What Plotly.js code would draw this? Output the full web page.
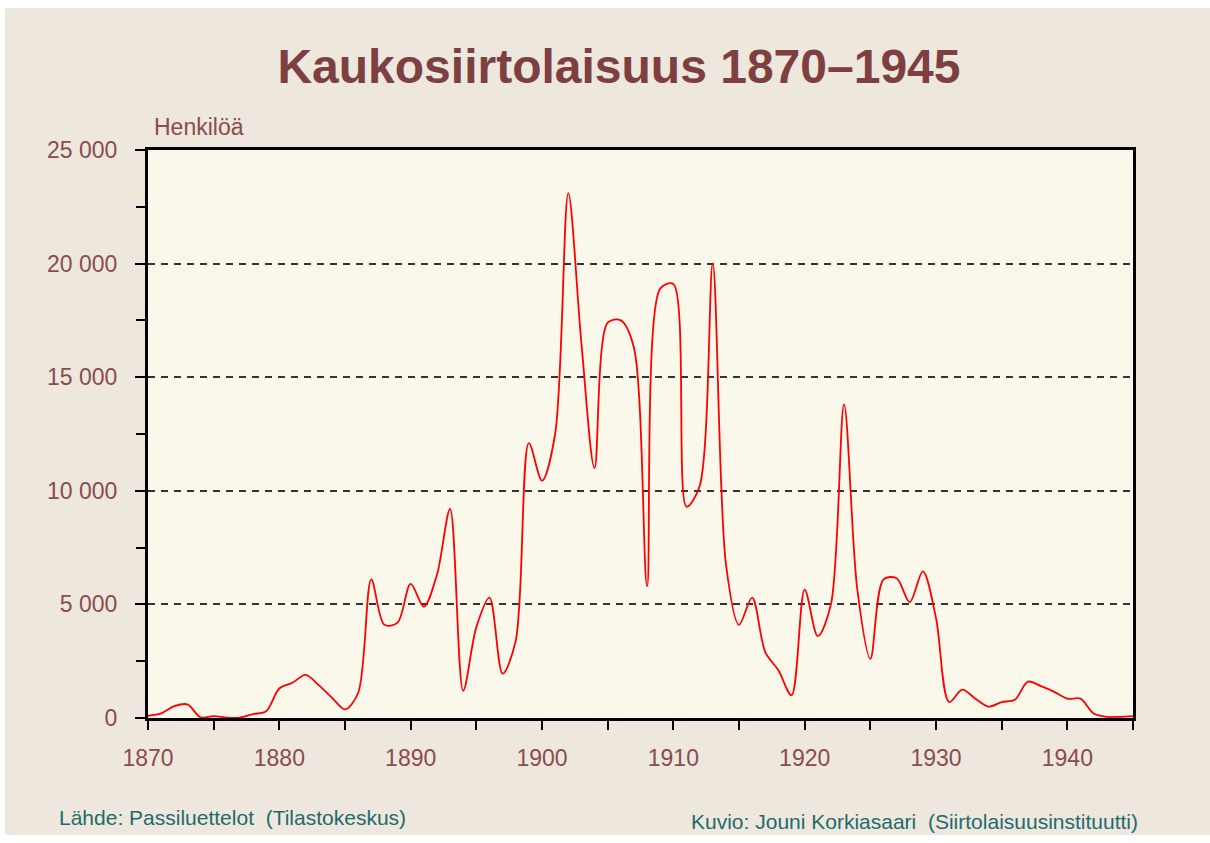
<!DOCTYPE html>
<html>
<head>
<meta charset="utf-8">
<script src="https://cdn.plot.ly/plotly-3.0.1.min.js"></script>
<style>
  html, body { margin: 0; padding: 0; background: #ffffff; }
  #chart { position: absolute; left: 5px; top: 8px; width: 1205px; height: 827px; }
</style>
</head>
<body>
<div id="chart"></div>
<script>
const years = [];
for (let y = 1870; y <= 1945; y++) years.push(y);

const emigrants = [
  100, 200, 520, 600, 30, 80, 20, 20, 170, 300,          // 1870-1879
  1300, 1550, 1900, 1450, 900, 380, 1100, 6100, 4100, 4200, // 1880-1889
  5900, 4900, 6300, 9200, 1200, 4000, 5300, 1950, 3400, 12100, // 1890-1899
  10450, 12500, 23100, 16500, 11000, 17400, 17500, 16300, 5800, 18900, // 1900-1909
  19100, 9300, 10200, 20000, 6800, 4100, 5300, 2900, 2100, 1000, // 1910-1919
  5650, 3600, 5000, 13800, 5700, 2600, 6100, 6150, 5100, 6450, // 1920-1929
  4400, 700, 1250, 850, 500, 700, 800, 1600, 1400, 1150,  // 1930-1939
  850, 850, 200, 50, 50, 80                                // 1940-1945
];

const titleText = 'Kaukosiirtolaisuus 1870–1945';
const unitLabel = 'Henkilöä';
const sourceText = 'Lähde: Passiluettelot  (Tilastokeskus)';
const creditText = 'Kuvio: Jouni Korkiasaari  (Siirtolaisuusinstituutti)';

const labelColor = '#8a4c4c';
const footColor = '#1f6b6b';

const trace = {
  x: years,
  y: emigrants,
  type: 'scatter',
  mode: 'lines',
  line: { color: '#ff0000', width: 1.8, shape: 'spline', smoothing: 0.9 },
  hoverinfo: 'x+y'
};

const layout = {
  width: 1205,
  height: 827,
  margin: { l: 143, r: 77, t: 142, b: 117 },
  paper_bgcolor: '#ede7de',
  plot_bgcolor: '#faf7eb',
  separators: ', ',
  showlegend: false,
  title: {
    text: '<b>' + titleText + '</b>',
    font: { family: 'Liberation Sans, Arial, sans-serif', size: 48, color: '#7d3f3f' },
    x: 0.5095, xanchor: 'center', xref: 'container',
    y: 0.930, yanchor: 'middle', yref: 'container'
  },
  xaxis: {
    range: [1870, 1945],
    dtick: 10,
    tick0: 1870,
    ticks: 'outside',
    ticklen: 9,
    tickwidth: 2,
    tickcolor: '#000',
    ticklabelstandoff: 8,
    minor: { dtick: 5, ticks: 'outside', ticklen: 9, tickwidth: 2, tickcolor: '#000', showgrid: false },
    showgrid: false,
    zeroline: false,
    showline: true,
    linecolor: '#000',
    linewidth: 3,
    mirror: true,
    tickfont: { family: 'Liberation Sans, Arial, sans-serif', size: 23, color: labelColor },
    fixedrange: true
  },
  yaxis: {
    range: [0, 25000],
    dtick: 5000,
    tick0: 0,
    tickformat: ',d',
    ticks: 'outside',
    ticklen: 10,
    tickwidth: 2,
    tickcolor: '#000',
    ticklabelstandoff: 13,
    minor: { dtick: 2500, ticks: 'outside', ticklen: 9, tickwidth: 2, tickcolor: '#000', showgrid: false },
    showgrid: true,
    gridcolor: '#333333',
    gridwidth: 2,
    griddash: '7px,6px',
    zeroline: false,
    showline: true,
    linecolor: '#000',
    linewidth: 3,
    mirror: true,
    tickfont: { family: 'Liberation Sans, Arial, sans-serif', size: 23, color: labelColor },
    fixedrange: true
  },
  annotations: [
    {
      text: unitLabel, xref: 'paper', yref: 'paper',
      x: 0.004, y: 1.0405, xanchor: 'left', yanchor: 'middle', showarrow: false,
      font: { family: 'Liberation Sans, Arial, sans-serif', size: 23, color: labelColor }
    },
    {
      text: sourceText, xref: 'paper', yref: 'paper',
      x: -0.0924, y: -0.176, xanchor: 'left', yanchor: 'middle', showarrow: false,
      font: { family: 'Liberation Sans, Arial, sans-serif', size: 21, color: footColor }
    },
    {
      text: creditText, xref: 'paper', yref: 'paper',
      x: 1.0071, y: -0.183, xanchor: 'right', yanchor: 'middle', showarrow: false,
      font: { family: 'Liberation Sans, Arial, sans-serif', size: 21, color: footColor }
    }
  ]
};

Plotly.newPlot('chart', [trace], layout, { displayModeBar: false, staticPlot: false });
</script>
</body>
</html>
